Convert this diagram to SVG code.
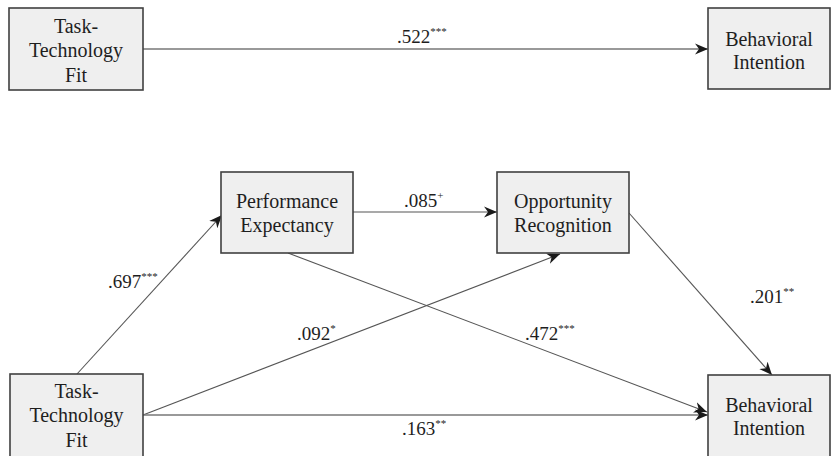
<svg xmlns="http://www.w3.org/2000/svg" width="831" height="456" viewBox="0 0 831 456">
<style>
.box{fill:#efefef;stroke:#404040;stroke-width:1.6}
.t{font-size:20px;fill:#1e1e1e;text-anchor:middle}
.l{font-size:19px;fill:#1e1e1e}
.s{font-size:11px}
.c{stroke:#555;stroke-width:1.1;fill:none;marker-end:url(#ah)}
</style>
<defs>
<marker id="ah" markerUnits="userSpaceOnUse" markerWidth="14" markerHeight="12" refX="13" refY="6" orient="auto">
<path d="M0,0.5 L13,6 L0,11.5 L4,6 Z" fill="#1a1a1a"/>
</marker>
</defs>
<g font-family="Liberation Serif, DejaVu Serif, serif">
<g id="connectors">
<line class="c" x1="143" y1="49" x2="708" y2="49" style="stroke:#777;stroke-width:1.6"/>
<line class="c" x1="353" y1="212" x2="497" y2="212"/>
<line class="c" x1="77" y1="374" x2="222" y2="215"/>
<line class="c" x1="143" y1="415" x2="560" y2="254"/>
<line class="c" x1="143" y1="415" x2="708" y2="415" style="stroke:#777;stroke-width:1.5"/>
<line class="c" x1="288" y1="253" x2="707" y2="412"/>
<line class="c" x1="629" y1="213" x2="772" y2="375"/>
<text class="l" x="397" y="43">.522<tspan class="s" dy="-8">***</tspan></text>
<text class="l" x="404" y="207">.085<tspan class="s" dy="-8">+</tspan></text>
<text class="l" x="108" y="288">.697<tspan class="s" dy="-8">***</tspan></text>
<text class="l" x="297" y="340">.092<tspan class="s" dy="-8">*</tspan></text>
<text class="l" x="525" y="340">.472<tspan class="s" dy="-8">***</tspan></text>
<text class="l" x="750" y="303">.201<tspan class="s" dy="-8">**</tspan></text>
<text class="l" x="402" y="435">.163<tspan class="s" dy="-8">**</tspan></text>
</g>
<g id="ttf1">
<rect class="box" x="9" y="8" width="134" height="82"/>
<text class="t" x="76" y="33">Task-</text>
<text class="t" x="76" y="57">Technology</text>
<text class="t" x="76" y="82">Fit</text>
</g>
<g id="bi1">
<rect class="box" x="708" y="8" width="122" height="81"/>
<text class="t" x="769" y="46">Behavioral</text>
<text class="t" x="769" y="69">Intention</text>
</g>
<g id="pe">
<rect class="box" x="221" y="172" width="132" height="81"/>
<text class="t" x="287" y="208">Performance</text>
<text class="t" x="287" y="232">Expectancy</text>
</g>
<g id="or">
<rect class="box" x="497" y="172" width="132" height="81"/>
<text class="t" x="563" y="208">Opportunity</text>
<text class="t" x="563" y="232">Recognition</text>
</g>
<g id="ttf2">
<rect class="box" x="10" y="374" width="133" height="86"/>
<text class="t" x="76.5" y="398">Task-</text>
<text class="t" x="76.5" y="422">Technology</text>
<text class="t" x="76.5" y="447">Fit</text>
</g>
<g id="bi2">
<rect class="box" x="708" y="375" width="122" height="86"/>
<text class="t" x="769" y="412">Behavioral</text>
<text class="t" x="769" y="435">Intention</text>
</g>
</g>
</svg>
